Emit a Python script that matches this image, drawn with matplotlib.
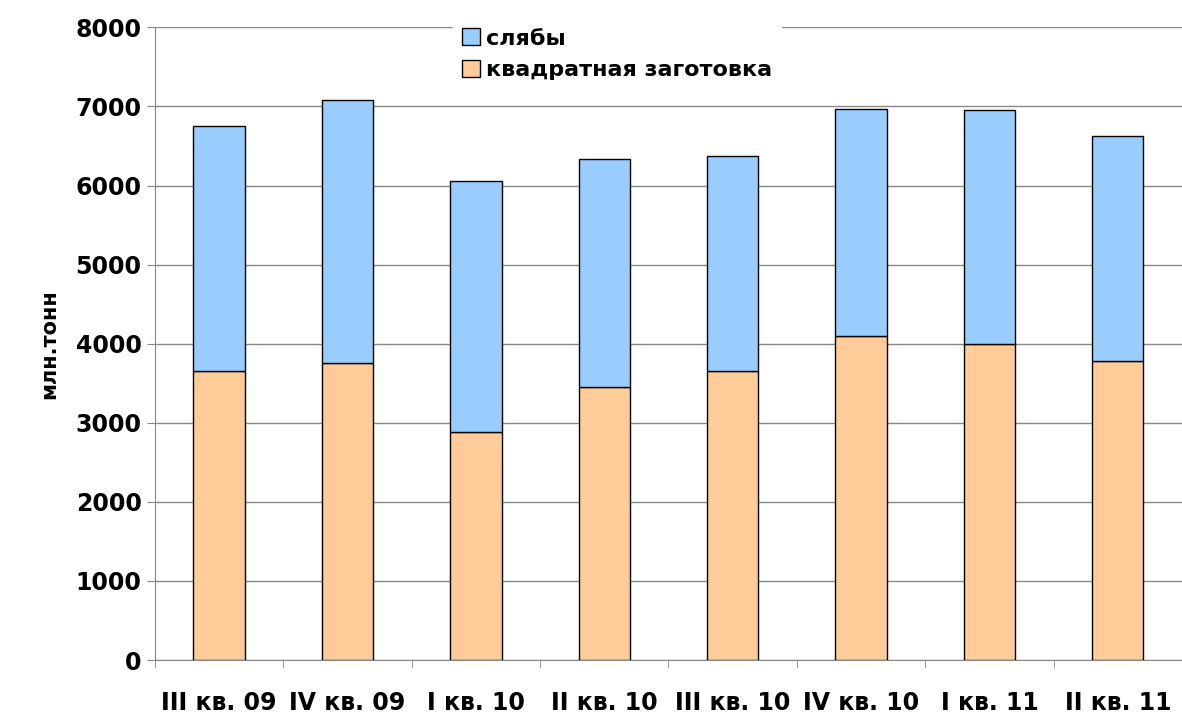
import numpy as np
import matplotlib.pyplot as plt

categories = ['III кв. 09', 'IV кв. 09', 'I кв. 10', 'II кв. 10',
              'III кв. 10', 'IV кв. 10', 'I кв. 11', 'II кв. 11']
billets = [3650, 3750, 2880, 3450, 3650, 4100, 4000, 3780]
totals = [6750, 7080, 6060, 6340, 6370, 6970, 6960, 6620]
slabs = [t - b for t, b in zip(totals, billets)]

fig = plt.figure(figsize=(11.82, 7.19), dpi=100)
ax = fig.add_axes([0.131, 0.082, 0.869, 0.88])
x = np.arange(len(categories))
ax.bar(x, billets, 0.4, color='#FFCC99', edgecolor='black', linewidth=1,
       label='квадратная заготовка', zorder=3)
ax.bar(x, slabs, 0.4, bottom=billets, color='#99CCFF', edgecolor='black',
       linewidth=1, label='слябы', zorder=3)

ax.set_ylim(0, 8000)
ax.set_xlim(-0.5, len(categories) - 0.5)
ax.set_yticks(range(0, 8001, 1000))
ax.yaxis.grid(True, color='#888888', linewidth=1, zorder=0)
ax.set_xticks(x)
ax.set_xticklabels(categories, fontsize=17, fontweight='bold')
ax.set_xticks(np.arange(-0.5, len(categories)), minor=True)
ax.tick_params(axis='x', which='major', length=0, pad=22)
ax.tick_params(axis='x', which='minor', length=6, color='#888888')
ax.tick_params(axis='y', labelsize=17, length=6, color='#888888')
for lab in ax.get_yticklabels():
    lab.set_fontweight('bold')
for s in ['top', 'right']:
    ax.spines[s].set_visible(False)
ax.spines['left'].set_color('#888888')
ax.spines['bottom'].set_color('#888888')
ax.set_ylabel('млн.тонн', fontsize=15, fontweight='bold', labelpad=12)

h, l = ax.get_legend_handles_labels()
leg = ax.legend(h[::-1], l[::-1], loc='upper center', bbox_to_anchor=(0.45, 1.03),
                fontsize=16, frameon=True, framealpha=1, edgecolor='white',
                fancybox=False, handlelength=0.8, handleheight=0.8,
                handletextpad=0.3, prop={'weight': 'bold', 'size': 16})
leg.set_zorder(5)

fig.savefig('out.png')
